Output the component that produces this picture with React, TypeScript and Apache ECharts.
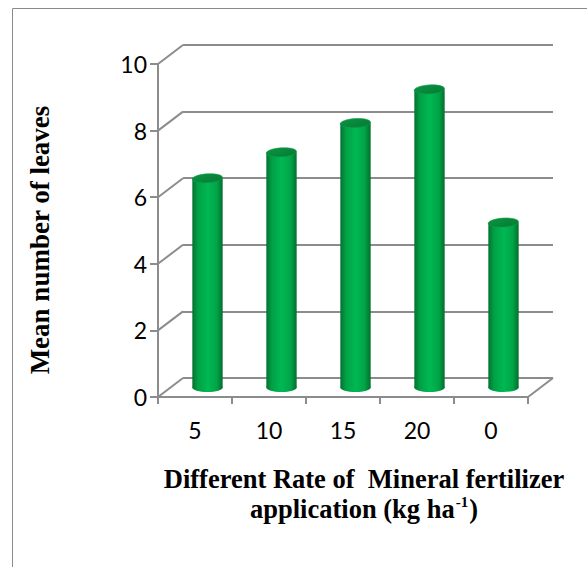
import React, { useEffect, useRef } from "react";
import * as echarts from "echarts";

const categories = ["5", "10", "15", "20", "0"];
const meanLeaves = [6.28, 7.06, 7.94, 8.95, 4.95];
const yTicks = [0, 2, 4, 6, 8, 10];
const yTitle = "Mean number of leaves";
const xTitleLine1 = "Different Rate of  Mineral fertilizer";
const xTitleLine2 = "application (kg ha";
const xTitleSup = "-1";

const DX = 25;
const DY = 19;
const GRID_COLOR = "#8c8c8c";
const SERIF = "'Liberation Serif', 'Times New Roman', serif";
const SANS = "Lato, 'Open Sans', sans-serif";

export default function App() {
  const ref = useRef<HTMLDivElement>(null);
  useEffect(() => {
    if (!ref.current) return;
    const chart = echarts.init(ref.current, undefined, { renderer: "svg" });
    const bodyGrad = () =>
      new echarts.graphic.LinearGradient(0, 0, 1, 0, [
        { offset: 0, color: "#05702f" },
        { offset: 0.18, color: "#00a046" },
        { offset: 0.5, color: "#00b852" },
        { offset: 0.8, color: "#00a548" },
        { offset: 1, color: "#056e2e" },
      ]);
    const option: any = {
      animation: false,
      backgroundColor: "#ffffff",
      grid: [
        { left: 158, top: 64, width: 370, height: 333 },
        { left: 158 + DX, top: 64 - DY, width: 370, height: 333 },
      ],
      xAxis: [
        {
          type: "category",
          gridIndex: 0,
          data: categories,
          boundaryGap: true,
          axisLine: { show: true, lineStyle: { color: GRID_COLOR, width: 2 } },
          axisTick: { show: true, length: 7, lineStyle: { color: GRID_COLOR, width: 2 } },
          axisLabel: { color: "#000", fontSize: 23, fontFamily: SANS, margin: 21 },
          splitLine: { show: false },
        },
        {
          type: "category",
          gridIndex: 1,
          data: categories,
          show: false,
        },
      ],
      yAxis: [
        {
          type: "value",
          gridIndex: 0,
          min: 0,
          max: 10,
          interval: 2,
          axisLine: { show: true, lineStyle: { color: GRID_COLOR, width: 2 } },
          axisTick: { show: true, length: 8, lineStyle: { color: GRID_COLOR, width: 2 } },
          axisLabel: { color: "#000", fontSize: 23, fontFamily: SANS, margin: 11 },
          splitLine: { show: false },
        },
        {
          type: "value",
          gridIndex: 1,
          min: 0,
          max: 10,
          interval: 2,
          axisLine: { show: false },
          axisTick: { show: false },
          axisLabel: { show: false },
          splitLine: { show: true, lineStyle: { color: GRID_COLOR, width: 2 } },
        },
      ],
      series: [
        {
          type: "custom",
          xAxisIndex: 0,
          yAxisIndex: 0,
          data: yTicks.map((v) => [0, v]),
          silent: true,
          z: 1,
          renderItem: (params: any, api: any) => {
            const p = api.coord([api.value(0), api.value(1)]);
            const x0 = params.coordSys.x;
            return {
              type: "line",
              shape: { x1: x0, y1: p[1], x2: x0 + DX, y2: p[1] - DY },
              style: { stroke: GRID_COLOR, lineWidth: 2 },
            };
          },
        },
        {
          type: "custom",
          xAxisIndex: 0,
          yAxisIndex: 0,
          data: [[categories.length - 1, 0]],
          silent: true,
          z: 1,
          renderItem: (params: any, api: any) => {
            const p = api.coord([api.value(0), api.value(1)]);
            const x1 = params.coordSys.x + params.coordSys.width;
            return {
              type: "line",
              shape: { x1: x1, y1: p[1], x2: x1 + DX, y2: p[1] - DY },
              style: { stroke: GRID_COLOR, lineWidth: 2 },
            };
          },
        },
        {
          type: "custom",
          xAxisIndex: 0,
          yAxisIndex: 0,
          data: meanLeaves.map((v, i) => [i, v]),
          z: 5,
          renderItem: (params: any, api: any) => {
            const top = api.coord([api.value(0), api.value(1)]);
            const base = api.coord([api.value(0), 0]);
            const band = api.size([1, 0])[0];
            const rx = band * 0.205;
            const ry = 4.5;
            const cx = top[0] + DX / 2;
            const yt = top[1] - DY / 2;
            const yb = base[1] - DY / 2;
            return {
              type: "group",
              children: [
                {
                  type: "ellipse",
                  shape: { cx, cy: yb, rx, ry },
                  style: { fill: bodyGrad() },
                },
                {
                  type: "rect",
                  shape: { x: cx - rx, y: yt, width: rx * 2, height: yb - yt },
                  style: { fill: bodyGrad() },
                },
                {
                  type: "ellipse",
                  shape: { cx, cy: yt, rx, ry },
                  rotation: 0.06,
                  originX: cx,
                  originY: yt,
                  style: {
                    fill: new echarts.graphic.LinearGradient(0, 0, 1, 1, [
                      { offset: 0, color: "#0a9442" },
                      { offset: 1, color: "#067a34" },
                    ]),
                    stroke: "#0e9e48",
                    lineWidth: 0.6,
                  },
                },
              ],
            };
          },
        },
      ],
      graphic: [
        {
          type: "rect",
          silent: true,
          shape: { x: 12.5, y: 8.5, width: 700, height: 700 },
          style: { fill: "none", stroke: "#8a8a8a", lineWidth: 1 },
          z: 0,
        },
        {
          type: "text",
          x: 40,
          y: 240,
          rotation: Math.PI / 2,
          style: {
            text: yTitle,
            fill: "#000",
            font: `bold 27px ${SERIF}`,
            align: "center",
            verticalAlign: "middle",
          },
        },
        {
          type: "text",
          x: 364,
          y: 462,
          style: {
            text: `{a|${xTitleLine1}}\n{a|${xTitleLine2}}{s|${xTitleSup}}{a|)}`,
            align: "center",
            verticalAlign: "top",
            rich: {
              a: { fontFamily: SERIF, fontWeight: "bold", fontSize: 26.5, fill: "#000", color: "#000", lineHeight: 30, verticalAlign: "bottom" },
              s: { fontFamily: SERIF, fontWeight: "bold", fontSize: 15, fill: "#000", color: "#000", lineHeight: 30, verticalAlign: "top", padding: [2, 1, 0, 1] },
            },
          },
        },
      ],
    };
    chart.setOption(option);
    return () => chart.dispose();
  }, []);
  return (
    <div
      ref={ref}
      style={{ position: "fixed", left: 0, top: 0, width: 587, height: 567, background: "#fff" }}
    />
  );
}
